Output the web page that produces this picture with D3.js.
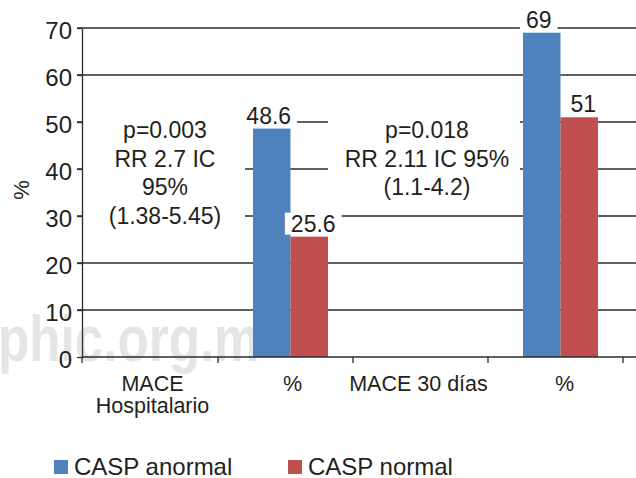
<!DOCTYPE html>
<html lang="es">
<head>
<meta charset="UTF-8">
<title>MACE CASP</title>
<script src="https://d3js.org/d3.v7.min.js"></script>
<style>
  body { margin: 0; background: #fff; }
  text { font-family: "Liberation Sans", Arial, sans-serif; fill: #231f20; }
</style>
</head>
<body>
<script>
// datos
var categories = [["MACE", "Hospitalario"], ["%"], ["MACE 30 días"], ["%"]];
var seriesNames = ["CASP anormal", "CASP normal"];
var casoAnormal = [null, 48.6, null, 69];
var casoNormal = [null, 25.6, null, 51];
var valueLabels = [[null, "48.6", null, "69"], [null, "25.6", null, "51"]];
var yTicks = [0, 10, 20, 30, 40, 50, 60, 70];
var notes = [
  ["p=0.003", "RR 2.7 IC", "95%", "(1.38-5.45)"],
  ["p=0.018", "RR 2.11 IC 95%", "(1.1-4.2)"]
];
var colors = ["#4f81bd", "#c0504d"];

var width = 636, height = 478;
var mLeft = 82, mRight = 628, mTop = 28, mBottom = 357;

var svg = d3.select("body").append("svg")
  .attr("width", width)
  .attr("height", height);

var x0 = d3.scaleBand()
  .domain(d3.range(categories.length))
  .range([mLeft + 6, mRight]);

var x1 = d3.scaleBand()
  .domain([0, 1])
  .range([0, x0.bandwidth()])
  .paddingOuter(0.8);

var y = d3.scaleLinear()
  .domain([0, 70])
  .range([mBottom, mTop]);

// marca de agua
svg.append("text")
  .attr("transform", "translate(-2,361) scale(0.8,1)")
  .style("font-weight", "bold")
  .style("font-size", "64px")
  .style("fill", "#e4e5e6")
  .text("phic.org.m");

// lineas de cuadricula
svg.append("g")
  .selectAll("line")
  .data(yTicks.filter(function (d) { return d > 0; }))
  .enter().append("line")
  .attr("x1", mLeft - 5)
  .attr("x2", width)
  .attr("y1", function (d) { return y(d); })
  .attr("y2", function (d) { return y(d); })
  .attr("stroke", "#2b2b2b")
  .attr("stroke-width", 1.3);

// cajas blancas detras de las notas
var noteBoxes = [[mLeft + 1, 100, 245, 240], [328, 100, 520, 205]];
svg.append("g")
  .selectAll("rect")
  .data(noteBoxes)
  .enter().append("rect")
  .attr("x", function (d) { return d[0]; })
  .attr("y", function (d) { return d[1]; })
  .attr("width", function (d) { return d[2] - d[0]; })
  .attr("height", function (d) { return d[3] - d[1]; })
  .attr("fill", "#fff");

// barras
var series = [casoAnormal, casoNormal];
series.forEach(function (vals, s) {
  svg.append("g")
    .selectAll("rect")
    .data(vals.map(function (v, i) { return { i: i, v: v }; }).filter(function (d) { return d.v != null; }))
    .enter().append("rect")
    .attr("x", function (d) { return x0(d.i) + x1(s); })
    .attr("y", function (d) { return y(d.v); })
    .attr("width", x1.bandwidth())
    .attr("height", function (d) { return y(0) - y(d.v); })
    .attr("fill", colors[s]);
});

// etiquetas de valor con fondo blanco
series.forEach(function (vals, s) {
  vals.forEach(function (v, i) {
    if (v == null) return;
    var cx = x0(i) + x1(s) + x1.bandwidth() / 2 + (s === 1 ? 4 : -3);
    var g = svg.append("g");
    var t = g.append("text")
      .attr("x", cx)
      .attr("y", y(v) - 5)
      .attr("text-anchor", "middle")
      .style("font-size", "23px")
      .text(valueLabels[s][i]);
    var b = t.node().getBBox();
    g.insert("rect", "text")
      .attr("x", b.x - 6)
      .attr("y", b.y + 2)
      .attr("width", b.width + 12)
      .attr("height", b.height - 4)
      .attr("fill", "#fff");
  });
});

// eje Y
var yAxis = svg.append("g")
  .attr("transform", "translate(" + mLeft + ",0)")
  .call(d3.axisLeft(y).tickValues(yTicks).tickSize(5).tickSizeOuter(0));
yAxis.select(".domain").attr("stroke", "#2b2b2b").attr("stroke-width", 1.3);
yAxis.selectAll(".tick line").attr("stroke", "#2b2b2b").attr("stroke-width", 1.3);
yAxis.selectAll(".tick text")
  .attr("x", -10)
  .attr("dy", "0.42em")
  .style("font-size", "24px")
  .style("fill", "#231f20")
  .style("font-family", "'Liberation Sans', Arial, sans-serif");

// eje X
var xAxis = svg.append("g")
  .attr("transform", "translate(0," + mBottom + ")")
  .call(d3.axisBottom(x0).tickSize(0).tickFormat(""));
xAxis.select(".domain").attr("d", "M" + mLeft + ",0H" + width).attr("stroke", "#2b2b2b").attr("stroke-width", 1.3);
xAxis.selectAll(".sep")
  .data(d3.range(1, categories.length + 1))
  .enter().append("line")
  .attr("x1", function (i) { return x0.range()[0] + i * x0.step() - 5; })
  .attr("x2", function (i) { return x0.range()[0] + i * x0.step() - 5; })
  .attr("y1", 0)
  .attr("y2", 6)
  .attr("stroke", "#2b2b2b")
  .attr("stroke-width", 1.3);
xAxis.append("line")
  .attr("x1", mLeft).attr("x2", mLeft)
  .attr("y1", 0).attr("y2", 6)
  .attr("stroke", "#2b2b2b")
  .attr("stroke-width", 1.3);

// etiquetas de categoria
var labelShift = [-3, 2, -7, 4];
categories.forEach(function (lines, i) {
  var t = svg.append("text")
    .attr("text-anchor", "middle")
    .style("font-size", "21.5px");
  lines.forEach(function (line, k) {
    t.append("tspan")
      .attr("x", x0(i) + x0.bandwidth() / 2 + labelShift[i])
      .attr("y", 391 + k * 22)
      .text(line);
  });
});

// notas
notes.forEach(function (lines, n) {
  var cx = n === 0 ? 165 : 427;
  var t = svg.append("text")
    .attr("text-anchor", "middle")
    .style("font-size", "23px");
  lines.forEach(function (line, k) {
    t.append("tspan")
      .attr("x", cx)
      .attr("y", 138 + k * 28.6)
      .text(line);
  });
});

// titulo eje Y
svg.append("text")
  .attr("transform", "translate(29,190) rotate(-90)")
  .attr("text-anchor", "middle")
  .style("font-size", "22px")
  .text("%");

// leyenda
var legendX = [54, 288];
var legend = svg.append("g")
  .selectAll("g")
  .data(seriesNames)
  .enter().append("g")
  .attr("transform", function (d, i) { return "translate(" + legendX[i] + ",460)"; });
legend.append("rect")
  .attr("width", 14)
  .attr("height", 14)
  .attr("fill", function (d, i) { return colors[i]; });
legend.append("text")
  .attr("x", 20)
  .attr("y", 15)
  .style("font-size", "24px")
  .text(function (d) { return d; });
</script>
</body>
</html>
